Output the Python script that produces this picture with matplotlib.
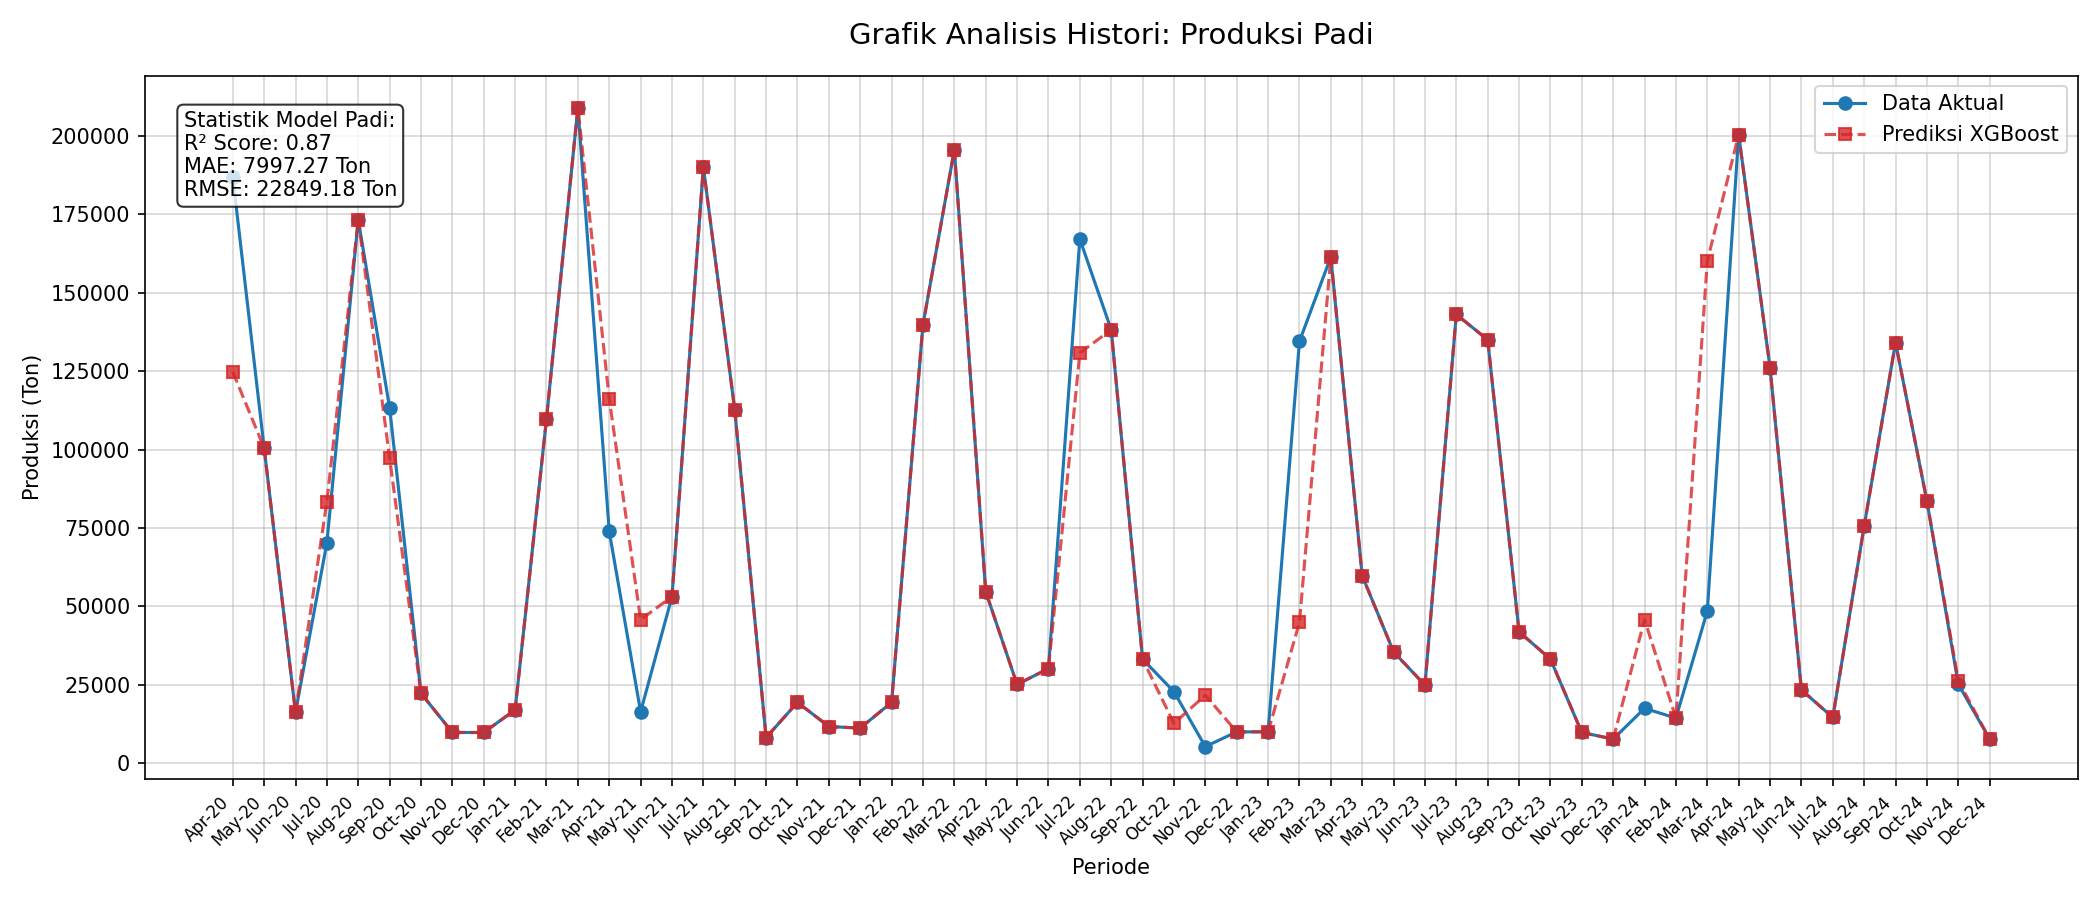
import numpy as np
import matplotlib
matplotlib.use('Agg')
import matplotlib.pyplot as plt


########  data  #########

PERIODS = ['Apr-20', 'May-20', 'Jun-20', 'Jul-20', 'Aug-20', 'Sep-20', 'Oct-20',
           'Nov-20', 'Dec-20', 'Jan-21', 'Feb-21', 'Mar-21', 'Apr-21', 'May-21',
           'Jun-21', 'Jul-21', 'Aug-21', 'Sep-21', 'Oct-21', 'Nov-21', 'Dec-21',
           'Jan-22', 'Feb-22', 'Mar-22', 'Apr-22', 'May-22', 'Jun-22', 'Jul-22',
           'Aug-22', 'Sep-22', 'Oct-22', 'Nov-22', 'Dec-22', 'Jan-23', 'Feb-23',
           'Mar-23', 'Apr-23', 'May-23', 'Jun-23', 'Jul-23', 'Aug-23', 'Sep-23',
           'Oct-23', 'Nov-23', 'Dec-23', 'Jan-24', 'Feb-24', 'Mar-24', 'Apr-24',
           'May-24', 'Jun-24', 'Jul-24', 'Aug-24', 'Sep-24', 'Oct-24', 'Nov-24',
           'Dec-24']

actual = [187000, 100500, 16200, 70300, 173300, 113300, 22300,
          9800, 9800, 17000, 109800, 209000, 73900, 16400,
          53100, 190100, 112700, 8200, 19400, 11700, 11200,
          19400, 139800, 195600, 54700, 25100, 30200, 167100,
          138200, 33200, 22800, 5300, 10000, 10000, 134500,
          161400, 59800, 35500, 24900, 143100, 135000, 41900,
          33200, 9800, 7700, 17500, 14400, 48500, 200400,
          126100, 23400, 14600, 75600, 134100, 83600, 25200,
          7700]

predicted = [124800, 100500, 16200, 83400, 173300, 97300, 22300,
             9800, 9800, 17000, 109800, 209000, 116200, 45800,
             53100, 190100, 112700, 8200, 19400, 11700, 11200,
             19400, 139800, 195600, 54700, 25100, 30200, 130800,
             138200, 33200, 12700, 21700, 10000, 10000, 44900,
             161400, 59800, 35500, 24900, 143100, 135000, 41900,
             33200, 9800, 7700, 45800, 14400, 160100, 200400,
             126100, 23400, 14600, 75600, 134100, 83600, 26300,
             7700]

R2 = 0.87
MAE = 7997.27
RMSE = 22849.18

####################################


#########  draw plot  #########

x = np.arange(len(PERIODS))

fig, ax = plt.subplots(figsize=(14, 6), dpi=150)

ax.plot(x, actual, color='#1f77b4', marker='o', linestyle='-',
        linewidth=1.5, markersize=6, label='Data Aktual')
ax.plot(x, predicted, color='#d62728', marker='s', linestyle='--',
        linewidth=1.5, markersize=6, alpha=0.8, label='Prediksi XGBoost')

ax.set_title('Grafik Analisis Histori: Produksi Padi', fontsize=14, pad=15)
ax.set_xlabel('Periode')
ax.set_ylabel('Produksi (Ton)')

ax.set_xticks(x)
ax.set_xticklabels(PERIODS, rotation=45, ha='right', fontsize=8)

ax.grid(True, alpha=0.5)
ax.legend(loc='upper right')

stats_text = (f'Statistik Model Padi:\n'
              f'R² Score: {R2:.2f}\n'
              f'MAE: {MAE:.2f} Ton\n'
              f'RMSE: {RMSE:.2f} Ton')
ax.text(0.02, 0.95, stats_text, transform=ax.transAxes, fontsize=10,
        va='top', ha='left',
        bbox=dict(boxstyle='round', facecolor='white', alpha=0.8))

plt.tight_layout()
plt.savefig('out.png', dpi=150)
plt.close()
